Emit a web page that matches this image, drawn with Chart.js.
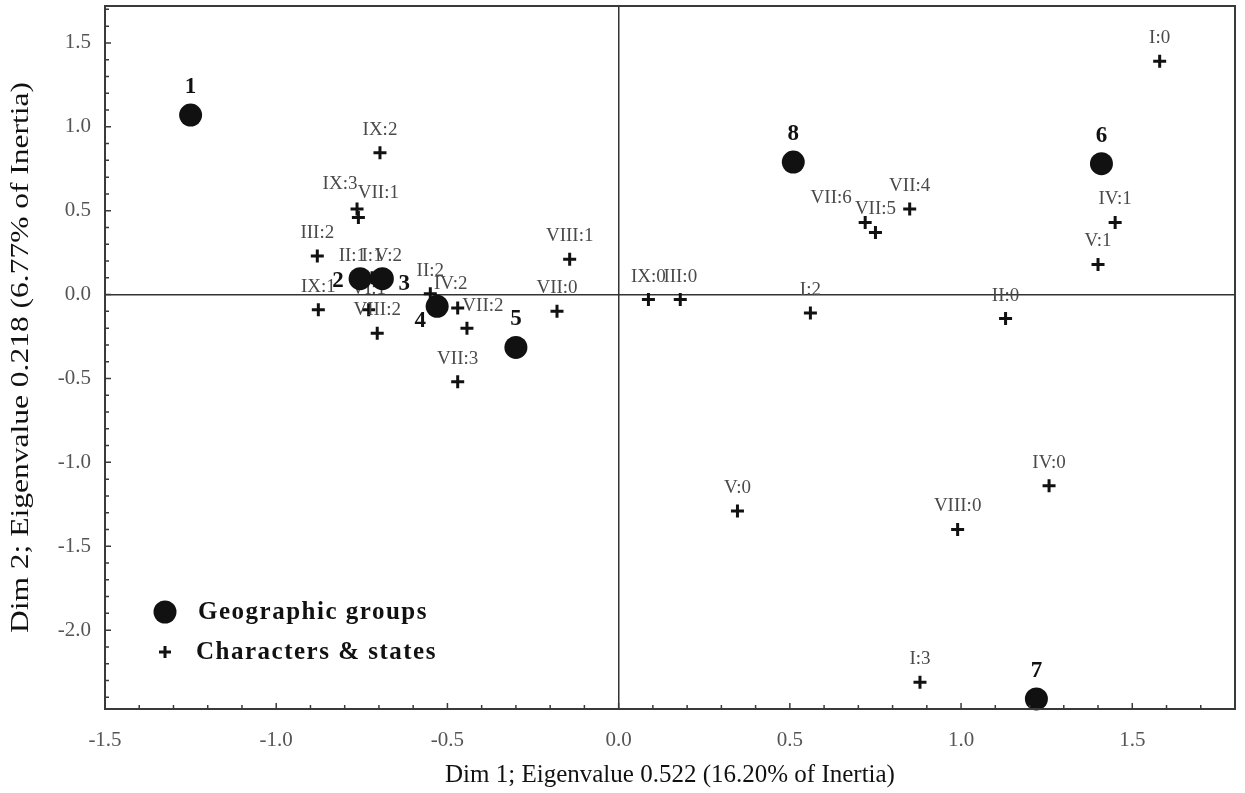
<!DOCTYPE html>
<html>
<head>
<meta charset="utf-8">
<script src="https://cdn.jsdelivr.net/npm/chart.js@4.4.0/dist/chart.umd.min.js"></script>
<style>
  html, body { margin: 0; padding: 0; background: #fff; }
  #wrap { width: 1245px; height: 793px; }
</style>
</head>
<body>
<div id="wrap"><canvas id="plot"></canvas></div>
<script>
// Correspondence analysis plot: geographic groups vs character states
const groupNames = ['1', '2', '3', '4', '5', '6', '7', '8'];
const groupDim1 = [-1.25, -0.755, -0.69, -0.53, -0.30, 1.41, 1.22, 0.51];
const groupDim2 = [1.07, 0.095, 0.095, -0.07, -0.315, 0.78, -2.41, 0.79];

const stateNames = ['I:0', 'I:1', 'I:2', 'I:3', 'II:0', 'II:1', 'II:2', 'III:0', 'III:2',
    'IV:0', 'IV:1', 'IV:2', 'V:0', 'V:1', 'V:2', 'VI:1', 'VII:0', 'VII:1', 'VII:2', 'VII:3',
    'VII:4', 'VII:5', 'VII:6', 'VIII:0', 'VIII:1', 'VIII:2', 'IX:0', 'IX:1', 'IX:2', 'IX:3'];
const stateDim1 = [1.58, -0.72, 0.56, 0.88, 1.13, -0.76, -0.55, 0.18, -0.88,
    1.257, 1.45, -0.47, 0.347, 1.40, -0.69, -0.73, -0.18, -0.76, -0.443, -0.47,
    0.85, 0.75, 0.72, 0.99, -0.143, -0.705, 0.087, -0.877, -0.697, -0.764];
const stateDim2 = [1.39, 0.10, -0.11, -2.31, -0.143, 0.10, 0.005, -0.03, 0.23,
    -1.14, 0.43, -0.08, -1.29, 0.18, 0.10, -0.09, -0.10, 0.46, -0.20, -0.52,
    0.51, 0.37, 0.43, -1.40, 0.21, -0.23, -0.03, -0.09, 0.845, 0.51];

const xTicks = [-1.5, -1.0, -0.5, 0.0, 0.5, 1.0, 1.5];
const yTicks = [-2.0, -1.5, -1.0, -0.5, 0.0, 0.5, 1.0, 1.5];

const xTitle = 'Dim 1; Eigenvalue 0.522 (16.20% of Inertia)';
const yTitle = 'Dim 2; Eigenvalue 0.218 (6.77% of Inertia)';

const serif = "'Liberation Serif', 'Times New Roman', serif";

// label nudges (pixels) where the default "above" placement does not fit
const stateNudge = {
    'I:1': [0, -22], 'II:1': [-6, -22], 'V:2': [6, -22],
    'IX:3': [-17, -25], 'VII:1': [20, -24], 'VII:6': [-34, -24],
    'VII:2': [16, -22], 'IV:2': [-7, -24], 'VI:1': [0, -21]
};
const groupNudge = {
    '2': [-22, 2], '3': [22, 5], '4': [-17, 15]
};

const labelPlugin = {
    id: 'pointLabels',
    afterDatasetDraw(chart, args) {
        const ctx = chart.ctx;
        const meta = args.meta;
        ctx.save();
        ctx.textAlign = 'center';
        ctx.textBaseline = 'middle';
        if (args.index === 1) {
            ctx.font = '19px ' + serif;
            ctx.fillStyle = '#4a4a4a';
            meta.data.forEach((pt, i) => {
                const n = stateNudge[stateNames[i]] || [0, -23];
                ctx.fillText(stateNames[i], pt.x + n[0], pt.y + n[1]);
            });
        } else {
            ctx.font = 'bold 23px ' + serif;
            ctx.fillStyle = '#111';
            meta.data.forEach((pt, i) => {
                const n = groupNudge[groupNames[i]] || [0, -28];
                ctx.fillText(groupNames[i], pt.x + n[0], pt.y + n[1]);
            });
        }
        ctx.restore();
    }
};

const framePlugin = {
    id: 'frame',
    afterDraw(chart) {
        const ctx = chart.ctx;
        const a = chart.chartArea;
        const xs = chart.scales.x, ys = chart.scales.y;
        ctx.save();
        ctx.strokeStyle = '#3a3a3a';
        ctx.lineWidth = 2;
        ctx.strokeRect(a.left, a.top, a.right - a.left, a.bottom - a.top);

        // inward minor/major ticks on left and bottom
        ctx.lineWidth = 1.5;
        ctx.beginPath();
        for (let i = -15; i <= 18; i++) {
            const px = xs.getPixelForValue(i / 10);
            const len = i % 5 === 0 ? 6 : 4;
            ctx.moveTo(px, a.bottom);
            ctx.lineTo(px, a.bottom - len);
        }
        for (let i = -24; i <= 17; i++) {
            const py = ys.getPixelForValue(i / 10);
            const len = i % 5 === 0 ? 6 : 4;
            ctx.moveTo(a.left, py);
            ctx.lineTo(a.left + len, py);
        }
        ctx.stroke();

        // y title, stretched along its reading direction like the scan
        ctx.save();
        ctx.translate(21, (a.top + a.bottom) / 2);
        ctx.rotate(-Math.PI / 2);
        ctx.scale(1.26, 1);
        ctx.font = '25px ' + serif;
        ctx.fillStyle = '#111';
        ctx.textAlign = 'center';
        ctx.textBaseline = 'middle';
        ctx.fillText(yTitle, 0, 0);
        ctx.restore();

        // legend, bottom-left inside the plot
        const lx = a.left + 60, ly1 = a.bottom - 97, ly2 = a.bottom - 57;
        ctx.fillStyle = '#111';
        ctx.beginPath();
        ctx.arc(lx, ly1, 11.5, 0, Math.PI * 2);
        ctx.fill();
        ctx.strokeStyle = '#111';
        ctx.lineWidth = 3;
        ctx.beginPath();
        ctx.moveTo(lx - 6, ly2); ctx.lineTo(lx + 6, ly2);
        ctx.moveTo(lx, ly2 - 6); ctx.lineTo(lx, ly2 + 6);
        ctx.stroke();
        ctx.font = 'bold 25px ' + serif;
        ctx.letterSpacing = '1.5px';
        ctx.textAlign = 'left';
        ctx.textBaseline = 'middle';
        ctx.fillText('Geographic groups', lx + 33, ly1 + 1);
        ctx.fillText('Characters & states', lx + 31, ly2 + 1);
        ctx.restore();
    }
};

new Chart(document.getElementById('plot'), {
    type: 'scatter',
    data: {
        datasets: [{
            label: 'Geographic groups',
            data: groupDim1.map((v, i) => ({ x: v, y: groupDim2[i] })),
            pointStyle: 'circle',
            pointRadius: 11.5,
            backgroundColor: '#111',
            borderColor: '#111',
            borderWidth: 0,
            clip: false
        }, {
            label: 'Characters & states',
            data: stateDim1.map((v, i) => ({ x: v, y: stateDim2[i] })),
            pointStyle: 'cross',
            pointRadius: 6.5,
            borderColor: '#111',
            borderWidth: 3,
            clip: false
        }]
    },
    options: {
        responsive: true,
        maintainAspectRatio: false,
        animation: false,
        events: [],
        layout: { autoPadding: false, padding: { left: 0, right: 10, top: 6, bottom: 0 } },
        plugins: {
            legend: { display: false },
            tooltip: { enabled: false }
        },
        scales: {
            x: {
                type: 'linear',
                min: -1.5,
                max: 1.8,
                afterBuildTicks: s => { s.ticks = xTicks.map(v => ({ value: v })); },
                afterFit: s => { s.height = 84; s.paddingLeft = 0; s.paddingRight = 0; },
                border: { display: false },
                grid: {
                    drawTicks: false,
                    lineWidth: 1.5,
                    color: c => (c.tick && c.tick.value === 0 ? '#333' : 'rgba(0,0,0,0)')
                },
                ticks: {
                    padding: 19,
                    color: '#555',
                    font: { family: serif, size: 21 },
                    callback: v => v.toFixed(1)
                },
                title: {
                    display: true,
                    text: xTitle,
                    color: '#111',
                    font: { family: serif, size: 25 },
                    padding: { top: 0, bottom: 3 }
                }
            },
            y: {
                type: 'linear',
                min: -2.47,
                max: 1.72,
                afterBuildTicks: s => { s.ticks = yTicks.map(v => ({ value: v })); },
                afterFit: s => { s.width = 105; s.paddingTop = 0; s.paddingBottom = 0; },
                border: { display: false },
                grid: {
                    drawTicks: false,
                    lineWidth: 1.5,
                    color: c => (c.tick && c.tick.value === 0 ? '#333' : 'rgba(0,0,0,0)')
                },
                ticks: {
                    padding: 14,
                    color: '#555',
                    font: { family: serif, size: 21 },
                    callback: v => v.toFixed(1)
                },
                title: { display: false }
            }
        }
    },
    plugins: [labelPlugin, framePlugin]
});
</script>
</body>
</html>
